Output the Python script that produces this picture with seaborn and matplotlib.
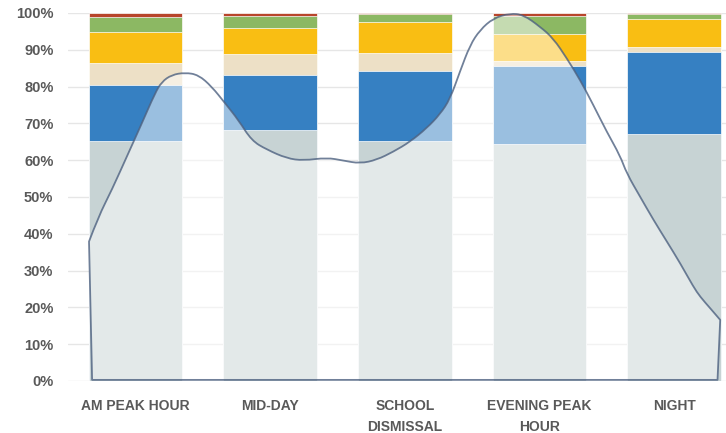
import numpy as np
import pandas as pd
import matplotlib
matplotlib.use("Agg")
import matplotlib.pyplot as plt
import seaborn as sns
from matplotlib.path import Path
from matplotlib.patches import PathPatch
from matplotlib.ticker import PercentFormatter

# Share of each segment per time period (bottom to top), in %
periods = ["AM PEAK HOUR", "MID-DAY", "SCHOOL\nDISMISSAL", "EVENING PEAK\nHOUR", "NIGHT"]
seg_base = [65.2, 68.2, 65.2, 64.3, 67.0]
seg_blue = [15.1, 15.0, 19.0, 21.4, 22.3]
seg_beige = [6.2, 5.7, 4.8, 1.3, 1.5]
seg_yellow = [8.4, 7.1, 8.5, 7.3, 7.5]
seg_green = [4.1, 3.3, 2.2, 5.0, 1.3]
seg_red = [1.0, 0.7, 0.3, 0.7, 0.4]

seg_colors = ["#C7D3D4", "#3680C2", "#EDE0C6", "#F9BE13", "#8CB863", "#B8452B"]

# Overlay profile (x in category units, value in %)
curve_x = [-0.344, -0.275, -0.175, -0.052, 0.048, 0.146, 0.196, 0.270, 0.369,
           0.468, 0.567, 0.666, 0.765, 0.864, 0.975, 1.124, 1.248, 1.421,
           1.544, 1.668, 1.792, 1.915, 2.039, 2.163, 2.262, 2.336, 2.410,
           2.485, 2.559, 2.658, 2.782, 2.881, 3.004, 3.103, 3.203, 3.302,
           3.400, 3.500, 3.599, 3.648, 3.747, 3.846, 3.946, 4.045, 4.143,
           4.193, 4.267, 4.342]
curve_pct = [37.9, 44.6, 51.9, 61.9, 70.0, 78.2, 81.3, 83.2, 83.8,
             83.2, 80.0, 75.5, 70.9, 65.3, 62.9, 60.5, 59.9, 60.7,
             59.9, 59.1, 60.1, 62.3, 65.0, 68.7, 72.5, 76.6, 84.1,
             91.3, 95.4, 98.6, 99.9, 99.5, 96.3, 93.1, 87.7, 81.8,
             75.0, 67.7, 61.2, 56.4, 50.1, 43.8, 37.9, 32.0, 25.6,
             22.9, 19.8, 16.6]
curve_base_x = [4.322, -0.321]
curve_base_pct = [0.3, 0.3]

sns.set_style("white")
plt.rcParams["font.family"] = ["Liberation Sans", "DejaVu Sans"]

layers = [seg_base, seg_blue, seg_beige, seg_yellow, seg_green, seg_red]
cum = np.cumsum(np.array(layers), axis=0)

fig = plt.figure(figsize=(7.26, 4.33), dpi=100)
ax = fig.add_axes([68 / 726, 52 / 433, 658 / 726, 368 / 433])

# paint cumulative totals from the top layer down
for i in range(len(layers) - 1, -1, -1):
    df = pd.DataFrame({"period": periods, "cum": cum[i]})
    sns.barplot(data=df, x="period", y="cum", order=periods, color=seg_colors[i],
                saturation=1, width=0.695, edgecolor="white", linewidth=0.5,
                ax=ax, zorder=2)

# smoothed outline: quadratic segments through midpoints (like a smoothed area)
pts = list(zip(curve_x, curve_pct))
verts = [pts[0]]
codes = [Path.MOVETO]
for i in range(1, len(pts) - 1):
    mid = ((pts[i][0] + pts[i + 1][0]) / 2, (pts[i][1] + pts[i + 1][1]) / 2)
    verts += [pts[i], mid]
    codes += [Path.CURVE3, Path.CURVE3]
verts.append(pts[-1])
codes.append(Path.LINETO)
for bx, by in zip(curve_base_x, curve_base_pct):
    verts.append((bx, by))
    codes.append(Path.LINETO)
verts.append(pts[0])
codes.append(Path.CLOSEPOLY)

ax.add_patch(PathPatch(Path(verts, codes), facecolor=(1, 1, 1, 0.5),
                       edgecolor=(0.30, 0.38, 0.50, 0.8), linewidth=1.3,
                       joinstyle="round", zorder=3))

ax.set_xlim(-0.5, 4.385)
ax.set_ylim(0, 100)
ax.set_yticks(np.arange(0, 101, 10))
ax.yaxis.set_major_formatter(PercentFormatter(100, decimals=0))
ax.grid(True, axis="y", color="#E6E6E6", linewidth=1)
ax.set_axisbelow(True)
ax.set_xlabel("")
ax.set_ylabel("")
for s in ax.spines.values():
    s.set_visible(False)

ax.tick_params(axis="y", length=0, pad=10.5, labelsize=10.5, labelcolor="#595959")
ax.tick_params(axis="x", length=0, pad=13, labelsize=10, labelcolor="#595959")
for lbl in ax.get_yticklabels() + ax.get_xticklabels():
    lbl.set_fontweight("bold")
for lbl in ax.get_xticklabels():
    lbl.set_linespacing(1.6)

fig.savefig("out.png", dpi=100)
